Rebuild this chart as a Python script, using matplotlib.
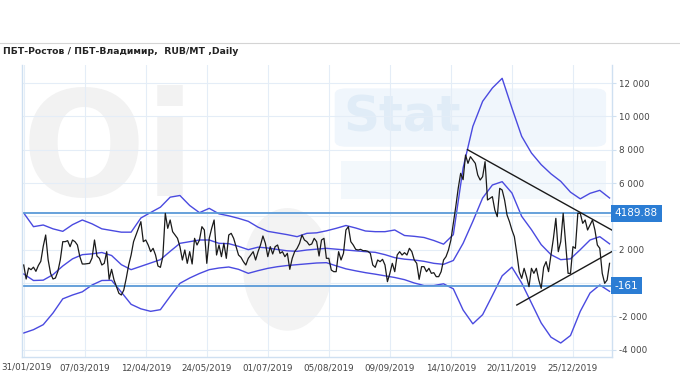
import matplotlib

matplotlib.use("Agg")
import matplotlib.pyplot as plt  # noqa: E402
from matplotlib.lines import Line2D  # noqa: E402
from matplotlib.patches import Ellipse, FancyBboxPatch, Rectangle  # noqa: E402

# daily spread, RUB/MT (one value per trading day)
price = [
    1080, 240, 900, 800, 950, 700, 1050, 1300, 2200, 2880,
    1400, 580, 240, 300, 700, 1400, 2480, 2480, 2540, 2180,
    2580, 2480, 2280, 1580, 1140, 1140, 1160, 1180, 1500, 2580,
    1620, 1480, 1080, 1180, 1880, 220, 820, 180, -220, -620,
    -720, -420, 280, 1080, 1680, 2480, 2880, 3280, 3680, 2480,
    2580, 2280, 1880, 2080, 1680, 1020, 940, 1580, 4180, 3280,
    3780, 3080, 2880, 2680, 2180, 1380, 1980, 1180, 1880, 1140,
    2680, 2280, 2580, 3380, 3180, 1180, 2680, 3280, 3780, 1680,
    2280, 1580, 2380, 1480, 2880, 2980, 2680, 2180, 1680, 1540,
    1280, 1080, 1480, 1680, 1880, 1380, 1880, 2280, 2820, 2380,
    1580, 2180, 1740, 2180, 2280, 1780, 1880, 1580, 1780, 820,
    1480, 1880, 2080, 2380, 2880, 2580, 2480, 2280, 2340, 2680,
    2480, 1620, 2580, 2680, 1480, 1480, 780, 680, 680, 1880,
    1380, 1780, 3180, 3380, 2480, 2280, 2020, 1980, 2020, 1940,
    1940, 1900, 1780, 1080, 940, 1380, 1280, 1420, 1080, 80,
    580, 1180, 680, 1680, 1880, 1680, 1820, 1680, 2080, 1880,
    1380, 1180, 220, 980, 980, 680, 880, 580, 620, 380,
    380, 680, 1380, 1580, 1980, 2580, 3580, 4580, 5680, 6580,
    6200, 7680, 7180, 7580, 7380, 7180, 6480, 6180, 6380, 7280,
    4980, 5080, 5180, 4380, 3980, 5680, 5580, 4980, 4080, 3680,
    3180, 2780, 1780, 680, 280, 880, 380, -220, 880, 580,
    880, 180, -320, 940, 1280, 680, 1680, 2680, 3880, 1880,
    2480, 4180, 2380, 580, 580, 2180, 2080, 4180, 4180, 3580,
    3780, 3180, 3480, 3780, 3180, 2280, 2080, 580, -20, 180,
    1180,
]

# Bollinger-style envelope, read every 4th trading day
band_idx = list(range(0, 241, 4))
upper = [
    4200, 3380, 3480, 3250, 3100, 3500, 3780, 3550, 3250, 3150,
    3050, 3050, 3900, 4230, 4550, 5150, 5250, 4650, 4220, 4480,
    4150, 4030, 3880, 3700, 3350, 3100, 3000, 2900, 2780, 2980,
    3010, 3130, 3280, 3450, 3300, 3120, 3080, 3080, 3180, 2850,
    2800, 2730, 2550, 2330, 2900, 6900, 9400, 10900, 11700, 12280,
    10500, 8800, 7800, 7100, 6550, 6100, 5450, 5050, 5380, 5560,
    5100,
]
middle = [
    540, 150, 170, 500, 1020, 1450, 1700, 1750, 1830, 1650,
    1100, 800, 1000, 1200, 1400, 1900, 2380, 2480, 2580, 2580,
    2380, 2360, 2200, 2000, 2150, 2100, 2010, 1930, 1900, 1980,
    2030, 2080, 2030, 1980, 1930, 1880, 1840, 1700, 1520, 1430,
    1380, 1300, 1180, 1120, 1350, 2380, 3700, 5100, 5880, 6080,
    5400, 4000, 3200, 2300, 1700, 1400, 1450, 2000, 2580, 2780,
    2350,
]
lower = [
    -3000, -2800, -2500, -1800, -950, -720, -530, -120, 150, 160,
    -550, -1280, -1550, -1700, -1600, -800, -20, 300, 570, 800,
    900, 960, 820, 580, 740, 880, 980, 1050, 1100, 1150,
    1200, 1220, 1030, 850, 730, 620, 530, 430, 330, 200,
    0, -150, -150, -50, -350, -1620, -2450, -1900, -750, 430,
    950, 0, -1200, -2400, -3250, -3600, -3150, -1700, -600, -120,
    -500,
]

level_hi = 4189.88
level_lo = -161
trend_hi_x = [181.8, 240.9]
trend_hi_y = [8000, 3180]
trend_lo_x = [202, 240.9]
trend_lo_y = [-1320, 1880]

tick_pos = [0, 25, 50, 75, 100, 125, 150, 175, 200, 225]
tick_dates = ["31/01/2019", "07/03/2019", "12/04/2019", "24/05/2019",
              "01/07/2019", "05/08/2019", "09/09/2019", "14/10/2019",
              "20/11/2019", "25/12/2019"]
y_ticks = [-4000, -2000, 0, 2000, 4000, 6000, 8000, 10000, 12000]

title = "ПБТ-Ростов / ПБТ-Владимир,  RUB/MT ,Daily"

BAND = "#4a4ae0"
LEVEL = "#5a9ad8"
GRID = "#e4edf7"
EDGE = "#cfe0f1"
BOX = "#2b7dd4"
TXT = "#444444"

fig = plt.figure(figsize=(6.8, 3.8), dpi=100)
ax = fig.add_axes([22 / 680, 23 / 380, 590 / 680, 292 / 380])

# faint "OilStat" watermark
ax.text(0.0, 0.93, "Oi", transform=ax.transAxes, fontsize=105,
        fontweight="bold", color="#f2f2f2", va="top", ha="left", zorder=0)
ax.add_patch(Ellipse((0.45, 0.30), 0.15, 0.42, transform=ax.transAxes,
                     fc="#f3f3f3", ec="none", zorder=0))
ax.add_patch(FancyBboxPatch((0.53, 0.72), 0.46, 0.2, transform=ax.transAxes,
                            boxstyle="round,pad=0,rounding_size=0.02",
                            fc="#f0f6fc", ec="none", zorder=0))
ax.add_patch(Rectangle((0.54, 0.54), 0.45, 0.13, transform=ax.transAxes,
                       fc="#f3f8fc", ec="none", zorder=0))
ax.text(0.545, 0.82, "Stat", transform=ax.transAxes, fontsize=36,
        fontweight="bold", color="#e0ecf7", va="center", ha="left", zorder=0)

ax.plot(band_idx, upper, color=BAND, lw=1, zorder=2)
ax.plot(band_idx, middle, color=BAND, lw=1, zorder=2)
ax.plot(band_idx, lower, color=BAND, lw=1, zorder=2)
ax.axhline(level_hi, color=LEVEL, lw=1.3, zorder=2)
ax.axhline(level_lo, color=LEVEL, lw=1.3, zorder=2)
ax.plot(range(len(price)), price, color="#1a1a1a", lw=0.9, zorder=3)
ax.plot(trend_hi_x, trend_hi_y, color="#1a1a1a", lw=1, zorder=3)
ax.plot(trend_lo_x, trend_lo_y, color="#1a1a1a", lw=1, zorder=3)

ax.set_xlim(-0.7, 241)
ax.set_ylim(-4440, 13080)
ax.set_xticks(tick_pos)
# first date sits at the very left edge, so it is written separately
ax.set_xticklabels([""] + tick_dates[1:])
fig.text(1 / 680, 1 - 367 / 380, tick_dates[0], fontsize=6.3, color=TXT,
         va="center", ha="left")
ax.set_yticks(y_ticks)
ax.set_yticklabels(["" if v in (0, 4000) else f"{v:,}".replace(",", " ")
                    for v in y_ticks])
ax.yaxis.tick_right()
ax.tick_params(axis="y", length=3, color=EDGE, labelsize=6.3,
               labelcolor=TXT, pad=2)
ax.tick_params(axis="x", length=0, labelsize=6.3, labelcolor=TXT, pad=5)
ax.grid(True, color=GRID, lw=0.8, zorder=1)
ax.set_axisbelow(True)
for sp in ax.spines.values():
    sp.set_color(EDGE)
    sp.set_linewidth(1.0)
ax.spines["top"].set_visible(False)

# current-value tags on the right axis
for val, txt in ((level_hi, "4189.88"), (level_lo, "-161")):
    ax.annotate(txt, xy=(1, val), xycoords=("axes fraction", "data"),
                xytext=(2, 0), textcoords="offset points", va="center",
                ha="left", fontsize=7.5, color="white", zorder=5,
                bbox=dict(boxstyle="square,pad=0.35", fc=BOX, ec="none"))

fig.text(3 / 680, 1 - 52 / 380, title, fontsize=6.7, fontweight="bold",
         color="#222222", va="center", ha="left")
fig.add_artist(Line2D([0, 1], [1 - 43 / 380] * 2, color="#d4d4d4", lw=0.8))

fig.savefig("out.png", dpi=100)
